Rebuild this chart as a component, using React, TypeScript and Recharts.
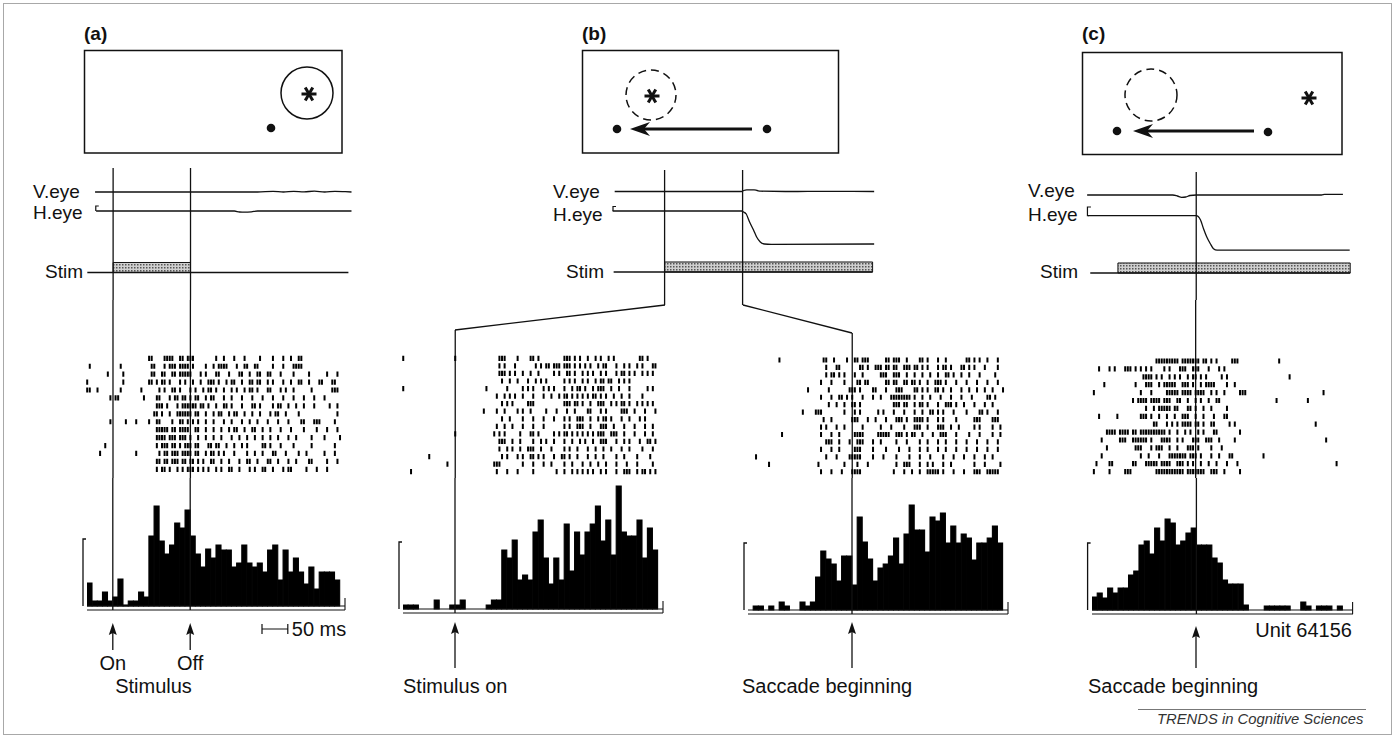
import React from 'react';
import {
  BarChart, Bar, ComposedChart, Line, Scatter, XAxis, YAxis,
  ReferenceLine, ReferenceArea,
} from 'recharts';

const FONT = "'Liberation Sans', Arial, Helvetica, sans-serif";
const INK = '#111';

// spike-rate histograms, 10 ms bins (rate in arbitrary units)
const HIST_A = [23,5,5,14,5,9,27,1,5,5,14,9,70,100,65,52,61,83,78,96,70,52,39,57,48,61,56,56,39,43,61,43,39,43,34,56,61,26,56,34,48,34,22,39,17,34,34,34,26,0];
const HIST_B_ON = [4,4,4,0,0,0,9,0,0,4,4,9,0,0,0,0,4,9,9,59,51,69,29,34,29,77,89,51,25,51,29,85,38,77,54,77,85,103,68,89,54,123,77,73,73,89,51,81,59,0];
const HIST_B_SAC = [0,4,4,0,4,0,8,4,0,0,8,4,8,33,59,51,46,29,54,54,25,93,68,51,29,42,46,54,72,46,76,105,80,80,58,93,89,97,67,84,67,76,72,50,67,67,72,84,67,0];
const HIST_C = [13,17,12,22,17,22,22,35,39,65,69,56,82,69,91,87,65,69,77,82,65,65,65,52,47,30,26,26,26,5,0,0,0,4,4,4,4,4,0,0,8,4,0,4,4,4,0,4,0,0];

// rasters: one array per trial, spikes given as 5 ms bin index from the start of the histogram
const RASTER_A = [
  [24,25,30,31,32,33,36,37,39,40,41,50,53,57,61,67,72,76,79,82,83],
  [1,13,25,26,30,32,33,34,36,37,38,39,41,46,49,51,52,53,54,58,61,62,65,66,72,76,80,81,82,83],
  [8,14,25,26,29,30,33,34,36,37,38,39,40,44,46,50,51,55,59,60,63,66,67,70,71,75,80,86,93,97],
  [0,14,24,25,27,29,30,32,36,38,41,44,47,48,49,51,54,56,57,60,63,64,66,67,70,72,76,79,82,83,86,90,91,95,96],
  [0,1,4,13,21,28,30,33,34,36,40,42,45,47,48,50,53,56,58,61,63,64,66,70,71,75,77,80,87,95,96,97],
  [9,11,12,22,27,28,32,34,35,37,38,40,42,43,46,48,49,53,56,60,64,68,72,76,80,84,88,92],
  [27,28,29,31,35,37,38,39,40,41,42,44,45,47,50,53,54,56,60,64,65,67,72,74,75,78,81,84,88,94,97],
  [26,27,29,32,35,36,37,38,39,40,42,43,46,49,51,52,55,57,58,61,64,67,71,73,74,77,82,97],
  [9,15,19,24,27,28,33,36,37,39,41,43,46,49,53,56,60,63,66,70,74,78,83,84,88,89,90,96],
  [27,28,29,30,31,33,34,36,37,38,39,42,43,46,49,52,55,57,58,61,64,65,68,71,75,79,84,89,93,97],
  [27,28,29,30,32,33,34,36,37,38,40,43,46,49,52,56,59,62,65,68,71,74,78,81,87,92,98],
  [7,27,29,30,31,33,34,36,38,39,40,42,43,47,48,50,51,54,57,60,62,68,69,71,75,80,87,96],
  [5,19,28,30,31,33,34,35,37,38,39,40,42,43,46,48,49,51,53,57,62,65,68,72,73,77,82,85,92,96],
  [27,28,30,31,33,34,35,37,38,40,41,43,45,48,49,52,55,59,62,63,66,70,71,74,78,81,86,87,93,97],
  [27,29,30,32,35,37,39,40,41,43,45,47,50,52,55,56,59,63,65,68,69,72,76,78,79,85,89,93],
];
const RASTER_B_ON = [
  [0,20,37,38,39,44,49,50,52,62,63,64,66,68,71,74,76,79,81,91,92,94],
  [37,39,43,51,53,55,56,58,59,60,62,63,64,66,68,70,72,75,77,78,82,85,87,90,92,96,97],
  [37,38,39,41,43,46,49,52,58,60,63,64,66,69,71,73,76,78,82,84,85,87,89,92,94,96],
  [38,41,44,48,51,53,55,62,64,66,69,71,74,76,77,79,80,83,85,87],
  [0,32,40,46,48,50,54,56,58,62,65,67,68,70,73,75,76,77,80,83,87,94,96],
  [36,39,41,43,46,50,54,57,60,62,63,65,67,69,71,73,74,76,78,81,84,87,92],
  [38,40,42,48,49,50,62,63,64,66,67,69,72,75,76,77,80,82,84,85,87,90,92,94,96],
  [31,36,39,44,46,49,55,59,63,66,71,72,76,78,84,85,86,89,93,97],
  [38,41,46,50,54,58,62,64,67,68,69,72,75,77,78,80,84,87,91,93],
  [36,39,42,46,50,54,62,64,67,68,69,72,76,77,78,81,85,89,93,96],
  [20,35,37,39,45,49,50,52,58,60,62,63,65,67,69,71,73,75,76,77,80,81,82,85,89,93,96],
  [37,38,39,42,45,50,53,55,58,62,65,68,70,73,76,77,78,82,85,87,91,94,95,97],
  [37,40,42,45,48,49,50,53,57,62,64,67,71,74,77,80,84,87,92,96],
  [10,38,40,44,46,49,50,52,54,58,61,62,64,67,71,74,77,82,85,90,95],
  [17,35,36,37,46,50,54,57,62,65,69,72,75,78,82,86,90,96],
  [3,36,40,44,50,59,62,65,67,69,71,73,76,78,82,85,86,87,90,92,93,95,97],
];
const RASTER_B_SAC = [
  [12,29,30,33,38,41,42,44,45,46,53,54,56,57,58,61,66,67,69,73,76,84,85,87,89,92,96],
  [30,34,35,43,44,46,49,50,51,53,54,56,57,60,61,62,64,65,67,69,73,75,76,78,82,83,85,87,91,96],
  [30,32,33,35,37,41,44,51,52,53,56,57,58,61,64,67,70,73,76,77,79,82,85,89,95],
  [28,32,37,42,43,45,46,53,54,56,57,60,61,63,64,66,69,72,73,74,76,80,84,88,92,96],
  [23,31,39,40,41,43,48,49,53,57,58,59,64,65,67,69,72,73,75,78,82,85,88,91,94,98],
  [28,32,35,36,38,40,44,48,51,55,56,57,58,59,60,61,62,64,67,70,74,78,82,86,92,93,95],
  [31,34,37,40,41,43,56,57,58,60,61,64,66,67,69,73,76,77,78,80,83,87,91,94],
  [21,26,27,28,37,41,43,50,52,56,60,64,67,70,71,73,75,79,84,89,90,92,96],
  [29,32,40,41,42,46,49,53,57,58,59,61,64,65,66,67,69,73,75,80,87,88,89,94,95,96],
  [28,30,34,37,44,51,55,60,64,65,66,69,73,74,75,78,81,87,89,94,97],
  [13,28,32,35,41,42,43,44,50,51,52,53,54,57,58,59,61,63,64,67,71,74,75,76,80,85,89,94,97],
  [30,31,32,35,39,42,43,44,48,51,57,61,66,69,73,76,80,84,88,92,96],
  [28,32,35,41,42,43,48,53,58,62,66,69,73,76,80,84,88,92,96],
  [3,30,34,39,40,41,42,43,48,52,57,62,66,70,75,79,83,87,91,94],
  [8,27,37,42,46,57,60,61,62,66,69,71,75,78,87,91,97],
  [28,32,36,40,41,42,43,56,60,63,66,69,70,71,72,73,75,79,83,87,88,89,92,93,94,95,96],
];
const RASTER_C = [
  [25,26,27,28,29,30,31,32,33,35,36,37,38,39,40,41,43,44,46,48,54,55,56,72],
  [3,7,9,13,14,15,17,19,21,23,28,30,34,35,36,39,40,41,45,49,51],
  [20,21,22,23,25,27,30,32,34,37,39,40,42,44,50,52,76],
  [5,17,21,22,23,26,28,29,30,31,32,35,36,37,39,42,44,45,46,47,52,55],
  [1,19,23,29,30,31,32,33,35,36,37,38,40,41,42,43,46,48,51,57,58,59,89],
  [16,18,19,20,21,23,24,25,26,28,29,30,33,34,37,40,42,45,48,49,71,83],
  [21,24,26,27,28,29,30,32,33,37,38,40,43,46,52],
  [3,10,19,20,21,23,26,29,32,35,36,37,40,43,47,51,52],
  [24,25,29,31,33,35,36,37,38,40,41,43,46,47,53,55,86],
  [6,7,8,9,11,12,13,14,16,17,19,20,21,22,23,24,25,26,27,28,30,33,36,38,41,43,47,48,57],
  [4,11,12,13,16,17,18,19,20,21,23,27,28,29,30,33,35,39,40,41,44,45,46,49,55,90],
  [6,17,18,19,23,25,26,27,30,33,37,38,39,41,46,50],
  [4,19,22,26,30,31,32,33,34,35,36,38,39,40,42,46,49,53,54,66],
  [2,7,8,16,17,21,22,23,24,25,27,28,29,30,33,34,35,37,39,42,45,48,52,56,94],
  [1,7,13,14,15,25,26,27,28,29,30,31,32,33,34,35,37,38,39,40,41,42,43,46,47,48,51,57],
];

// eye position traces: [time ms, position] (up = +)
const A_VEYE = [[15,0],[100,0],[200,0],[330,0],[360,0.6],[380,0],[400,0.7],[420,0.2],[440,0.8],[460,0],[480,0.7],[500,0.3],[512,0]];
const A_HEYE = [[17,0],[100,0],[200,0],[285,0],[295,-1],[305,-1.2],[318,-0.8],[330,0],[512,0]];
const B_VEYE = [[-96,0],[0,0],[100,0],[148,0],[152,1],[158,1.7],[172,1.7],[178,1],[185,0.3],[250,0],[300,0.2],[403,0]];
const B_HEYE = [[-100,0],[0,0],[148,0],[152,-1],[157,-3],[163,-10.5],[171,-19],[177,-26],[184,-31],[192,-33],[205,-33.3],[403,-33]];
const C_VEYE = [[-209,0],[-45,0],[-36,-1],[-28,-2.3],[-20,-2],[-12,-0.5],[0,0],[240,0],[246,0.6],[281,0.6]];
const C_HEYE = [[-207,0],[0,0],[8,-4],[14,-13],[20,-21],[27,-28],[33,-33],[40,-34.5],[60,-34.5],[294,-34.5]];

// stimulus periods and event times (ms)
const STIM_A = [50, 200];
const STIM_B = [0, 400];
const STIM_C = [-150, 295];
const SACCADE_B = 150;

type Col = { x0: number; k: number };
const colA: Col = { x0: 87, k: 0.516 };
const colBTop: Col = { x0: 665, k: 0.52 };
const colBOn: Col = { x0: 455, k: 0.52 };
const colBSac: Col = { x0: 852, k: 0.52 };
const colC: Col = { x0: 1196, k: 0.522 };
const px = (c: Col, t: number) => c.x0 + t * c.k;

const HIST_TOP = 478;
const GAP = 4;
const SCALE_RATE = 67;
const BIN_MS = 10;

const toXY = (a: number[][]) => a.map(([t, v]) => ({ t, v }));
const line = { stroke: INK, strokeWidth: 1.3, dot: false, isAnimationActive: false, type: 'monotone' as const };
const noAxis = { hide: true, axisLine: false, tickLine: false, tick: false, allowDataOverflow: true };

function TraceStrip({ col, dom, top, bottom, v, vAt, h, hAt, stimSpan, stim, stimAt, marks }: any) {
  const left = px(col, dom[0]);
  const width = (dom[1] - dom[0]) * col.k;
  const height = bottom - top;
  const zeroAt = (p: number) => [p - bottom, p - top];
  return (
    <div style={{ position: 'absolute', left, top, width, height }}>
      <ComposedChart width={width} height={height} margin={{ top: 0, right: 0, bottom: 0, left: 0 }}>
        <XAxis type="number" dataKey="t" domain={dom} {...noAxis} />
        <YAxis yAxisId="v" domain={zeroAt(vAt)} width={0} {...noAxis} />
        <YAxis yAxisId="h" domain={zeroAt(hAt)} width={0} {...noAxis} />
        <YAxis yAxisId="s" domain={zeroAt(stimAt)} width={0} {...noAxis} />
        <Line yAxisId="s" data={[{ t: stimSpan[0], v: 0 }, { t: stimSpan[1], v: 0 }]} dataKey="v" {...line} type="linear" />
        <ReferenceArea yAxisId="s" x1={stim[0]} x2={stim[1]} y1={0} y2={10} fill="url(#stip)" fillOpacity={1} stroke={INK} strokeWidth={1} ifOverflow="visible" />
        <Line yAxisId="v" data={toXY(v)} dataKey="v" {...line} />
        <Line yAxisId="h" data={toXY(h)} dataKey="v" {...line} />
        {marks.map((m: number) => (
          <ReferenceLine key={m} yAxisId="s" x={m} stroke={INK} strokeWidth={1.3} />
        ))}
      </ComposedChart>
    </div>
  );
}

const SpikeTick = (p: any) => (
  <line x1={p.cx} x2={p.cx} y1={p.cy - 2.6} y2={p.cy + 2.6} stroke="#000" strokeWidth={2} />
);

function RasterStrip({ col, lo, hi, top, rows, rowY0, rowStep, marks }: any) {
  const dom = [lo - 12, hi + 12];
  const left = px(col, dom[0]);
  const width = (dom[1] - dom[0]) * col.k;
  const height = HIST_TOP - top;
  const data = rows.flatMap((r: number[], i: number) => r.map((b) => ({ t: lo + b * 5, row: i + 1 })));
  const yDom = [1 + (top - rowY0) / rowStep, 1 + (HIST_TOP - rowY0) / rowStep];
  return (
    <div style={{ position: 'absolute', left, top, width, height }}>
      <ComposedChart width={width} height={height} margin={{ top: 0, right: 0, bottom: 0, left: 0 }}>
        <XAxis type="number" dataKey="t" domain={dom} {...noAxis} />
        <YAxis type="number" dataKey="row" domain={yDom} reversed width={0} {...noAxis} />
        <Scatter data={data} shape={SpikeTick} isAnimationActive={false} />
        {marks.map((m: number) => (
          <ReferenceLine key={m} x={m} stroke={INK} strokeWidth={1.3} />
        ))}
      </ComposedChart>
    </div>
  );
}

// histogram: bars on a category axis of bins, plus a numeric time axis (ms from the first bin) for ticks and event lines
function HistStrip({ col, lo, hi, base, rates, marks }: any) {
  const span = hi - lo;
  const plotH = base + GAP - HIST_TOP;
  const width = span * col.k;
  const left = px(col, lo);
  const data = rates.map((rate: number, bin: number) => ({ bin, t: bin * BIN_MS + BIN_MS / 2, rate }));
  const ticks = Array.from({ length: Math.round(span / 50) + 1 }, (_, i) => i * 50);
  const top = plotH - GAP;
  return (
    <div style={{ position: 'absolute', left: left - 1, top: HIST_TOP, width: width + 2, height: plotH + 1 }}>
      <BarChart width={width + 2} height={plotH + 1} data={data} margin={{ top: 0, right: 1, bottom: 1, left: 1 }} barCategoryGap={0} barGap={0}>
        <XAxis xAxisId="cat" dataKey="bin" type="category" {...noAxis} />
        <XAxis xAxisId="ms" dataKey="t" type="number" domain={[0, span]} ticks={ticks} interval={0} mirror tick={false}
          tickLine={{ stroke: INK, strokeWidth: 1 }} tickSize={8} axisLine={{ stroke: INK, strokeWidth: 1 }} allowDataOverflow />
        <YAxis domain={[-GAP, top]} width={0} {...noAxis} />
        <Bar xAxisId="cat" dataKey="rate" fill="#000" stroke="#000" strokeWidth={1.1} isAnimationActive={false} />
        <ReferenceLine xAxisId="ms" y={0} stroke={INK} strokeWidth={1} />
        {marks.map((m: number) => (
          <ReferenceLine key={m} xAxisId="ms" x={m - lo} stroke={INK} strokeWidth={1.3} />
        ))}
      </BarChart>
    </div>
  );
}

// scale bracket at the left of each histogram and the end tick at the right, drawn in page pixels
function HistFrame({ col, lo, hi, base }: any) {
  const x0 = px(col, lo) - 4;
  const x1 = px(col, hi);
  return (
    <g fill="none" stroke={INK} strokeWidth={1.3}>
      <path d={`M ${x0 + 3} ${base - SCALE_RATE} H ${x0} V ${base}`} />
      <path d={`M ${x1} ${base + GAP} V ${base - 8}`} strokeWidth={1.1} />
    </g>
  );
}

const Asterisk = ({ x, y }: { x: number; y: number }) => {
  const r = 7.5;
  const c = r * Math.cos(Math.PI / 3), s = r * Math.sin(Math.PI / 3);
  return (
    <g stroke={INK} strokeWidth={3} strokeLinecap="butt">
      <line x1={x - r} y1={y} x2={x + r} y2={y} />
      <line x1={x - c} y1={y - s} x2={x + c} y2={y + s} />
      <line x1={x + c} y1={y - s} x2={x - c} y2={y + s} />
    </g>
  );
};

const LeftArrow = ({ from, to, y }: { from: number; to: number; y: number }) => (
  <g>
    <line x1={from} y1={y} x2={to + 12} y2={y} stroke={INK} strokeWidth={3} />
    <path d={`M ${to} ${y} L ${to + 20} ${y - 7} L ${to + 14} ${y} L ${to + 20} ${y + 7} Z`} fill={INK} />
  </g>
);

const UpArrow = ({ x, tip, tail }: { x: number; tip: number; tail: number }) => (
  <g>
    <line x1={x} y1={tail} x2={x} y2={tip + 8} stroke={INK} strokeWidth={1.3} />
    <path d={`M ${x} ${tip} L ${x - 4} ${tip + 12} L ${x} ${tip + 10} L ${x + 4} ${tip + 12} Z`} fill={INK} />
  </g>
);

function Overlay() {
  const t = { fontFamily: FONT, fill: INK };
  const lab = { ...t, fontSize: 19 };
  const big = { ...t, fontSize: 20 };
  const head = { ...t, fontSize: 19, fontWeight: 700 };
  const aOn = px(colA, STIM_A[0]);
  const aOff = px(colA, STIM_A[1]);
  const bOn = px(colBOn, 0);
  const bSac = px(colBSac, 0);
  const cSac = px(colC, 0);
  const hA = px(colA, A_HEYE[0][0]);
  const hB = px(colBTop, B_HEYE[0][0]);
  const hC = px(colC, C_HEYE[0][0]);
  const bar0 = 262;
  const bar1 = bar0 + 50 * colA.k;
  return (
    <svg width={1396} height={739} style={{ position: 'absolute', left: 0, top: 0, pointerEvents: 'none' }}>
      <defs>
        <pattern id="stip" width="3" height="3" patternUnits="userSpaceOnUse">
          <rect width="3" height="3" fill="#cfcfcf" />
          <rect width="1.5" height="1.5" fill="#555" />
        </pattern>
      </defs>
      <rect x={3.5} y={3.5} width={1388} height={731} fill="none" stroke="#a8a8a8" strokeWidth={1} />

      <text x={84} y={40} {...head}>(a)</text>
      <text x={582} y={40} {...head}>(b)</text>
      <text x={1082} y={39.5} {...head}>(c)</text>

      {/* schematic screens */}
      <rect x={84.5} y={50.5} width={257.5} height={102.5} fill="none" stroke={INK} strokeWidth={1.5} />
      <circle cx={307} cy={93} r={26} fill="none" stroke={INK} strokeWidth={1.5} />
      <Asterisk x={309} y={94} />
      <circle cx={271} cy={128} r={4.3} fill={INK} />

      <rect x={582.5} y={50.5} width={256} height={102.5} fill="none" stroke={INK} strokeWidth={1.5} />
      <circle cx={651} cy={95} r={25} fill="none" stroke={INK} strokeWidth={1.5} strokeDasharray="8 5" />
      <Asterisk x={652} y={96} />
      <circle cx={617} cy={129} r={4.3} fill={INK} />
      <circle cx={767} cy={129} r={4.3} fill={INK} />
      <LeftArrow from={752} to={630} y={129} />

      <rect x={1082.5} y={52.5} width={259.5} height={102} fill="none" stroke={INK} strokeWidth={1.5} />
      <circle cx={1151} cy={95} r={26} fill="none" stroke={INK} strokeWidth={1.5} strokeDasharray="8 5" />
      <Asterisk x={1309} y={98} />
      <circle cx={1117} cy={131} r={4.3} fill={INK} />
      <circle cx={1268} cy={132} r={4.3} fill={INK} />
      <LeftArrow from={1254} to={1133} y={131} />

      {/* trace labels */}
      <text x={33} y={198} {...lab}>V.eye</text>
      <text x={33} y={219} {...lab}>H.eye</text>
      <text x={45} y={278} {...lab}>Stim</text>
      <text x={553} y={198} {...lab}>V.eye</text>
      <text x={553} y={221} {...lab}>H.eye</text>
      <text x={566} y={278} {...lab}>Stim</text>
      <text x={1028} y={197} {...lab}>V.eye</text>
      <text x={1028} y={221} {...lab}>H.eye</text>
      <text x={1040} y={278} {...lab}>Stim</text>

      {/* H.eye calibration marks */}
      <path d={`M ${hA} 211 V 206 H ${hA + 3}`} fill="none" stroke={INK} strokeWidth={1.2} />
      <path d={`M ${hB} 211 V 206.5 H ${hB + 3}`} fill="none" stroke={INK} strokeWidth={1.2} />
      <path d={`M ${hC + 1} 215.7 H ${hC - 0.5} V 207 H ${hC + 3}`} fill="none" stroke={INK} strokeWidth={1.2} />

      {/* (b) leader lines from the trace block to the two alignments */}
      <path d={`M ${px(colBTop, 0)} 305 L ${bOn} 330`} fill="none" stroke={INK} strokeWidth={1.3} />
      <path d={`M ${px(colBTop, SACCADE_B)} 305 L ${bSac} 333`} fill="none" stroke={INK} strokeWidth={1.3} />

      <HistFrame col={colA} lo={0} hi={500} base={606} />
      <HistFrame col={colBOn} lo={-100} hi={400} base={609} />
      <HistFrame col={colBSac} lo={-200} hi={300} base={610} />
      <HistFrame col={colC} lo={-200} hi={300} base={610} />

      {/* bottom annotations */}
      <UpArrow x={aOn} tip={623} tail={650} />
      <UpArrow x={aOff} tip={623} tail={650} />
      <text x={aOn} y={670} textAnchor="middle" {...big}>On</text>
      <text x={aOff} y={670} textAnchor="middle" {...big}>Off</text>
      <text x={153.5} y={693} textAnchor="middle" {...big}>Stimulus</text>
      <path d={`M ${bar0} 624 V 634 M ${bar0} 629 H ${bar1} M ${bar1} 624 V 634`} fill="none" stroke={INK} strokeWidth={1.2} />
      <text x={bar1 + 4} y={636} {...big}>50 ms</text>

      <UpArrow x={bOn} tip={622} tail={668} />
      <text x={403} y={693} {...big}>Stimulus on</text>
      <UpArrow x={bSac} tip={622} tail={668} />
      <text x={742} y={693} {...big}>Saccade beginning</text>

      <UpArrow x={cSac} tip={626} tail={668} />
      <text x={1088} y={693} {...big}>Saccade beginning</text>
      <text x={1352} y={637} textAnchor="end" {...big}>Unit 64156</text>

      <line x1={1138} y1={709.5} x2={1366} y2={709.5} stroke="#777" strokeWidth={1} />
      <text x={1157} y={724} fontFamily={FONT} fontSize={14.8} fontStyle="italic" fill="#333">TRENDS in Cognitive Sciences</text>
    </svg>
  );
}

export default function App() {
  return (
    <div style={{ position: 'absolute', left: 0, top: 0, width: 1396, height: 739, background: '#fff', overflow: 'hidden' }}>
      {/* (a) stimulus flashed in the receptive field */}
      <TraceStrip col={colA} dom={[-20, 520]} top={168} bottom={300}
        v={A_VEYE} vAt={192} h={A_HEYE} hAt={211} stimSpan={[0, 506]} stim={STIM_A} stimAt={272.5} marks={STIM_A} />
      <RasterStrip col={colA} lo={0} hi={500} top={300} rows={RASTER_A} rowY0={358.3} rowStep={7.93} marks={STIM_A} />
      <HistStrip col={colA} lo={0} hi={500} base={606} rates={HIST_A} marks={STIM_A} />

      {/* (b) stimulus in the future field, saccade brings it in */}
      <TraceStrip col={colBTop} dom={[-105, 410]} top={170} bottom={305}
        v={B_VEYE} vAt={191.5} h={B_HEYE} hAt={211} stimSpan={[-98, 400]} stim={STIM_B} stimAt={272} marks={[0, SACCADE_B]} />
      <RasterStrip col={colBOn} lo={-100} hi={400} top={330} rows={RASTER_B_ON} rowY0={358.3} rowStep={7.56} marks={[0]} />
      <HistStrip col={colBOn} lo={-100} hi={400} base={609} rates={HIST_B_ON} marks={[0]} />
      <RasterStrip col={colBSac} lo={-200} hi={300} top={333} rows={RASTER_B_SAC} rowY0={360} rowStep={7.45} marks={[0]} />
      <HistStrip col={colBSac} lo={-200} hi={300} base={610} rates={HIST_B_SAC} marks={[0]} />

      {/* (c) control: saccade without a stimulus in the future field */}
      <TraceStrip col={colC} dom={[-215, 300]} top={172} bottom={300}
        v={C_VEYE} vAt={195} h={C_HEYE} hAt={215.7} stimSpan={[-203, 295]} stim={STIM_C} stimAt={273} marks={[0]} />
      <RasterStrip col={colC} lo={-200} hi={300} top={300} rows={RASTER_C} rowY0={361} rowStep={7.9} marks={[0]} />
      <HistStrip col={colC} lo={-200} hi={300} base={610} rates={HIST_C} marks={[0]} />

      <Overlay />
    </div>
  );
}
